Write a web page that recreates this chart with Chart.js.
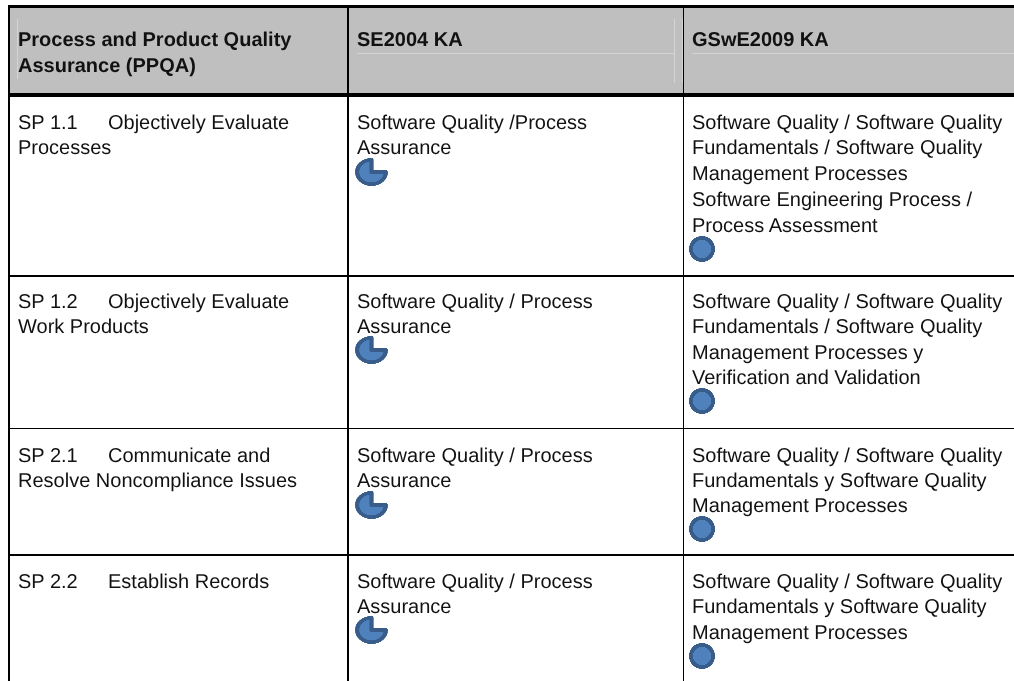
<!DOCTYPE html>
<html>
<head>
<meta charset="utf-8">
<title>PPQA</title>
<script src="https://cdn.jsdelivr.net/npm/chart.js@4"></script>
<style>
html, body { margin: 0; padding: 0; background: #fff; overflow: hidden; }
#page { position: relative; width: 1014px; height: 681px; overflow: hidden;
  font-family: "Liberation Sans", Arial, sans-serif; font-size: 20px; color: #111;
  text-rendering: geometricPrecision; }
#page div { position: absolute; }
#page .cell div, #page .cell span { position: static; }
.cell { white-space: pre; line-height: 25.3px; filter: blur(0.3px); }
.cell.head { font-weight: bold; line-height: 26px; }
.tab { display: inline-block; width: 90px; }
.line { background: #000; }
.faint { background: #d4d4d4; }
canvas { position: absolute; transform-origin: 0 0; }
</style>
</head>
<body>
<div id="page"></div>
<script>
var headers = [
  ['Process and Product Quality', 'Assurance (PPQA)'],
  ['SE2004 KA'],
  ['GSwE2009 KA']
];
var practices = [
  ['SP 1.1\tObjectively Evaluate', 'Processes'],
  ['SP 1.2\tObjectively Evaluate', 'Work Products'],
  ['SP 2.1\tCommunicate and', 'Resolve Noncompliance Issues'],
  ['SP 2.2\tEstablish Records']
];
var se2004 = [
  ['Software Quality /Process', 'Assurance'],
  ['Software Quality / Process', 'Assurance'],
  ['Software Quality / Process', 'Assurance'],
  ['Software Quality / Process', 'Assurance']
];
var gswe2009 = [
  ['Software Quality / Software Quality', 'Fundamentals / Software Quality', 'Management Processes', 'Software Engineering Process /', 'Process Assessment'],
  ['Software Quality / Software Quality', 'Fundamentals / Software Quality', 'Management Processes y', 'Verification and Validation'],
  ['Software Quality / Software Quality', 'Fundamentals y Software Quality', 'Management Processes'],
  ['Software Quality / Software Quality', 'Fundamentals y Software Quality', 'Management Processes']
];
// coverage of each practice, in percent
var se2004Coverage = [75, 75, 75, 75];
var gswe2009Coverage = [100, 100, 100, 100];

// layout
var colX = [18, 357, 692];
var rowTextY = [111, 290, 443.5, 570];
var se2004BallY = [158, 336, 491, 616];
var gsweBallY = [236, 388, 516, 643];
var fillColor = '#4f81bd';
var edgeColor = '#385d8a';

var page = document.getElementById('page');

function box(cls, x, y, w, h) {
  var d = document.createElement('div');
  d.className = cls;
  d.style.left = x + 'px';
  d.style.top = y + 'px';
  d.style.width = w + 'px';
  d.style.height = h + 'px';
  page.appendChild(d);
}

function cell(lines, x, y, cls) {
  var d = document.createElement('div');
  d.className = 'cell ' + (cls || '');
  d.style.left = x + 'px';
  d.style.top = y + 'px';
  lines.forEach(function (text) {
    var l = document.createElement('div');
    if (text.indexOf('Software Engineering') === 0) l.style.marginTop = '1.5px';
    var parts = text.split('\t');
    if (parts.length > 1) {
      var t = document.createElement('span');
      t.className = 'tab';
      t.textContent = parts[0];
      l.appendChild(t);
      l.appendChild(document.createTextNode(parts[1]));
    } else {
      l.textContent = text;
    }
    d.appendChild(l);
  });
  page.appendChild(d);
}

function ball(value, x, y, w, h) {
  var c = document.createElement('canvas');
  c.width = h;
  c.height = h;
  c.style.left = x + 'px';
  c.style.top = y + 'px';
  c.style.transform = 'scaleX(' + (w / h) + ')';
  page.appendChild(c);
  var datasets;
  if (value >= 100) {
    // a full slice would stroke a radius too, so the edge is its own outer ring
    datasets = [
      { data: [value], backgroundColor: [edgeColor], borderWidth: 0, weight: 4 },
      { data: [value], backgroundColor: [fillColor], borderWidth: 0, weight: h / 2 - 4 }
    ];
  } else {
    datasets = [{
      data: [value, 100 - value],
      backgroundColor: [fillColor, 'rgba(0,0,0,0)'],
      borderColor: [edgeColor, 'rgba(0,0,0,0)'],
      borderWidth: [3.6, 0],
      borderJoinStyle: 'round'
    }];
  }
  new Chart(c, {
    type: 'doughnut',
    data: { labels: value >= 100 ? ['covered'] : ['covered', 'not covered'], datasets: datasets },
    options: {
      responsive: false,
      animation: false,
      rotation: 90,
      cutout: 0,
      devicePixelRatio: 3,
      layout: { padding: 0 },
      plugins: { legend: { display: false }, tooltip: { enabled: false } }
    }
  });
}

// header band
box('', 8, 5, 1006, 92);
page.lastChild.style.background = '#bfbfbf';
box('faint', 17, 19, 1, 60);
box('faint', 357, 53, 317, 1);
box('faint', 674, 19, 1, 64);
box('faint', 682, 19, 1, 64);
box('faint', 692, 53, 322, 1);

// rules
box('line', 8, 5, 1006, 3);
box('line', 8, 93, 1006, 4);
box('line', 8, 275, 1006, 2);
box('line', 8, 428, 1006, 1);
box('line', 8, 554, 1006, 2);
box('line', 8, 5, 2, 676);
box('line', 347, 5, 2, 676);
box('line', 683, 5, 1, 676);

headers.forEach(function (lines, i) { cell(lines, colX[i], 27, 'head'); });
practices.forEach(function (lines, i) {
  cell(lines, colX[0], rowTextY[i]);
  cell(se2004[i], colX[1], rowTextY[i]);
  cell(gswe2009[i], colX[2], rowTextY[i]);
  ball(se2004Coverage[i], 355, se2004BallY[i], 33, 28);
  ball(gswe2009Coverage[i], 689, gsweBallY[i], 26, 26);
});
</script>
</body>
</html>
